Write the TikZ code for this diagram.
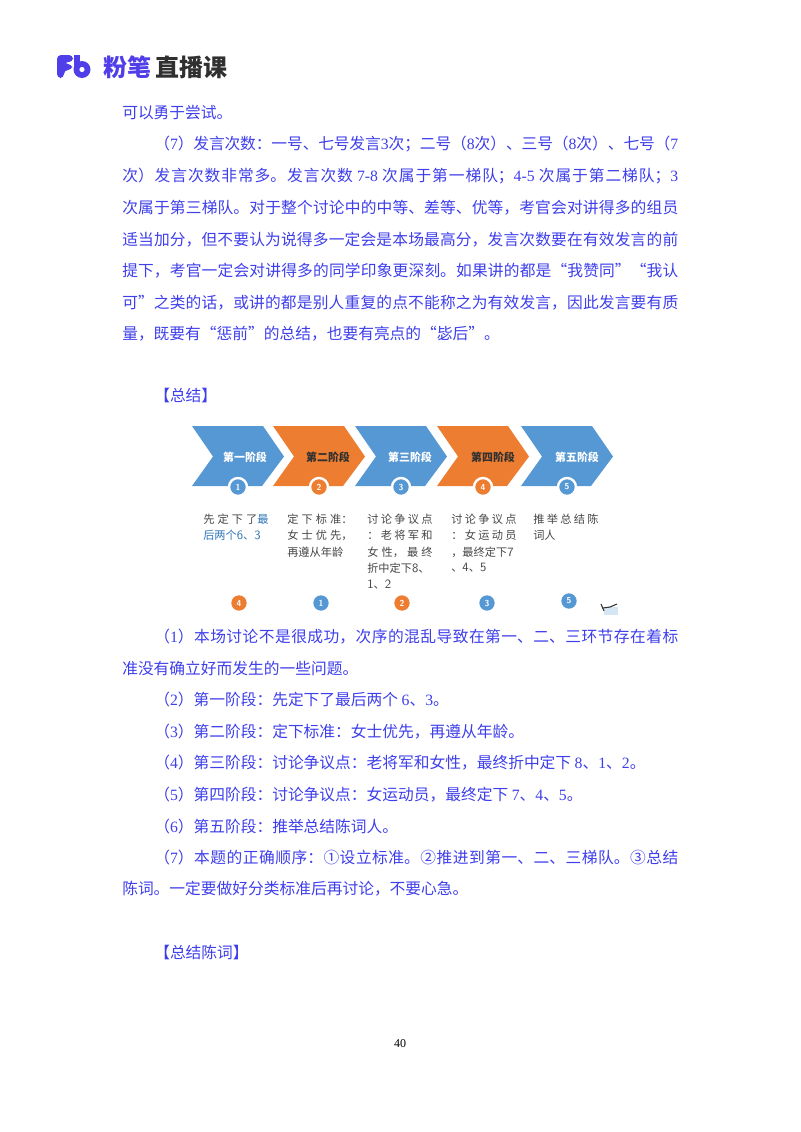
\documentclass[tikz,border=0pt]{standalone}
\usepackage{fontspec}
\setmainfont{Liberation Serif}
\newfontfamily\cjk{Noto Sans CJK SC}
\XeTeXlinebreaklocale "zh"
\XeTeXlinebreakskip=0pt plus 2pt minus 0.4pt
\definecolor{bodyblue}{RGB}{62,62,235}
\definecolor{logopurple}{RGB}{80,62,232}
\definecolor{logodark}{RGB}{48,48,48}
\definecolor{stageblue}{RGB}{86,152,212}
\definecolor{stageorange}{RGB}{237,125,49}
\definecolor{labelgrey}{RGB}{70,70,70}
\definecolor{labelblue}{RGB}{46,117,182}
\def\dg#1{{\rmfamily #1}}
\def\dn#1{{\sffamily\fontsize{9.5}{10}\selectfont #1}}
\def\stagearrow[#1](#2){\fill[#1, shift={(#2,0)}] (0,426) -- (71,426) -- (92,456.5) -- (70,486) -- (0,486) -- (21,456.5) -- cycle;}
\tikzset{
	bodyline/.style={anchor=west, inner sep=0pt, text=bodyblue, font=\cjk\fontsize{11.8}{14}\selectfont},
	fullline/.style={bodyline, text width=417pt, align=justify, execute at begin node={\parfillskip=0pt}},
	indentline/.style={fullline, text width=393pt},
	logotext/.style={anchor=west, inner sep=0pt, font=\cjk\bfseries\fontsize{18}{20}\selectfont},
	stagetext/.style={inner sep=0pt, font=\cjk\bfseries\fontsize{8.2}{10}\selectfont},
	stagedot/.style={circle, fill=#1, draw=white, line width=1.8pt, inner sep=0pt, minimum size=13.5pt, text=white, font=\sffamily\bfseries\fontsize{6.5}{7}\selectfont},
	rankdot/.style={circle, fill=#1, inner sep=0pt, minimum size=11.5pt, text=white, font=\sffamily\bfseries\fontsize{6.5}{7}\selectfont},
	noteline/.style={anchor=west, inner sep=0pt, text=labelgrey, font=\cjk\fontsize{8.4}{10}\selectfont},
	notefull/.style={noteline, text width=49pt, align=justify, execute at begin node={\parfillskip=0pt}}
}
\begin{document}
\begin{tikzpicture}[x=0.75pt, y=-0.75pt]
		\useasboundingbox (0,0) rectangle (800,1132);
		
		%%%%% LOGO %%%%%
		\fill[logopurple, rounded corners=3pt] (57,78) -- (57,55) -- (73,55) -- (73,62) -- (64,62) -- (64,64) -- (72,64) -- (72,70) -- (64,70) -- (64,78) -- cycle;
		\fill[logopurple] (74,55) rectangle (80,70);
		\fill[logopurple] (82,69.5) circle (8.5);
		\fill[white] (82,69.5) circle (2.6);
		\node[logotext, text=logopurple] (logoa) at (103,67) {粉笔};
		\node[logotext, text=logodark] (logob) at (155,67) {直播课};
		
		%%%%% TOP TEXT %%%%%
		\node[bodyline] (ta) at (122,113) {可以勇于尝试。};
		\node[indentline] (tb) at (154,144) {（\dg{7}）发言次数：一号、七号发言\dg{3}次；二号（\dg{8}次）、三号（\dg{8}次）、七号（\dg{7}};
		\node[fullline] (tc) at (122,176) {次）发言次数非常多。发言次数 \dg{7-8} 次属于第一梯队；\dg{4-5} 次属于第二梯队；\dg{3}};
		\node[fullline] (td) at (122,208) {次属于第三梯队。对于整个讨论中的中等、差等、优等，考官会对讲得多的组员};
		\node[fullline] (te) at (122,240) {适当加分，但不要认为说得多一定会是本场最高分，发言次数要在有效发言的前};
		\node[fullline] (tf) at (122,271) {提下，考官一定会对讲得多的同学印象更深刻。如果讲的都是“我赞同”“我认};
		\node[fullline] (tg) at (122,303) {可”之类的话，或讲的都是别人重复的点不能称之为有效发言，因此发言要有质};
		\node[bodyline] (th) at (122,334) {量，既要有“惩前”的总结，也要有亮点的“毖后”。};
		\node[bodyline] (ti) at (154,396) {【总结】};
		
		%%%%% STAGES %%%%%
		\stagearrow[stageblue](192)
		\stagearrow[stageorange](273)
		\stagearrow[stageblue](355)
		\stagearrow[stageorange](437)
		\stagearrow[stageblue](521)
		
		\node[stagetext, text=white] (sa) at (245,457) {第一阶段};
		\node[stagetext, text=logodark] (sb) at (328,457) {第二阶段};
		\node[stagetext, text=white] (sc) at (410,457) {第三阶段};
		\node[stagetext, text=logodark] (sd) at (493,457) {第四阶段};
		\node[stagetext, text=white] (se) at (577,457) {第五阶段};
		
		\node[stagedot=stageblue] (da) at (238,487) {1};
		\node[stagedot=stageorange] (db) at (319,487) {2};
		\node[stagedot=stageblue] (dc) at (401,487) {3};
		\node[stagedot=stageorange] (dd) at (483,487) {4};
		\node[stagedot=stageblue] (de) at (567,487) {5};
		
		\node[notefull] (na) at (203,519) {先定下了\textcolor{labelblue}{最}};
		\node[noteline, text=labelblue] (nb) at (203,535) {后两个\dn{6}、\dn{3}};
		
		\node[notefull] (nc) at (287,519) {定下标准：};
		\node[notefull] (nd) at (287,535) {女士优先，};
		\node[noteline] (ne) at (287,552) {再遵从年龄};
		
		\node[notefull] (nf) at (367,519) {讨论争议点};
		\node[notefull] (ng) at (367,535) {：老将军和};
		\node[notefull] (nh) at (367,552) {女性，最终};
		\node[noteline] (ni) at (367,568) {折中定下\dn{8}、};
		\node[noteline] (nj) at (367,585) {\dn{1}、\dn{2}};
		
		\node[notefull] (nk) at (451,519) {讨论争议点};
		\node[notefull] (nl) at (451,535) {：女运动员};
		\node[noteline] (nm) at (451,552) {，最终定下\dn{7}};
		\node[noteline] (nn) at (451,568) {、\dn{4}、\dn{5}};
		
		\node[notefull] (no) at (533,519) {推举总结陈};
		\node[noteline] (np) at (533,535) {词人};
		
		\node[rankdot=stageorange] (ra) at (239,603) {4};
		\node[rankdot=stageblue] (rb) at (321,603) {1};
		\node[rankdot=stageorange] (rc) at (402,603) {2};
		\node[rankdot=stageblue] (rd) at (487,603) {3};
		\node[rankdot=stageblue] (re) at (569,601) {5};
		
		\fill[stageblue!25] (604,607) rectangle (618,615);
		\draw[logodark, line width=0.8pt] (601,604) -- (604,611);
		\draw[logodark, line width=0.8pt] (603,608) -- (610,607) -- (617,604);
		
		%%%%% BOTTOM TEXT %%%%%
		\node[indentline] (ua) at (154,637) {（\dg{1}）本场讨论不是很成功，次序的混乱导致在第一、二、三环节存在着标};
		\node[bodyline] (ub) at (122,668) {准没有确立好而发生的一些问题。};
		\node[bodyline] (uc) at (154,700) {（\dg{2}）第一阶段：先定下了最后两个 \dg{6}、\dg{3}。};
		\node[bodyline] (ud) at (154,732) {（\dg{3}）第二阶段：定下标准：女士优先，再遵从年龄。};
		\node[bodyline] (ue) at (154,763) {（\dg{4}）第三阶段：讨论争议点：老将军和女性，最终折中定下 \dg{8}、\dg{1}、\dg{2}。};
		\node[bodyline] (uf) at (154,795) {（\dg{5}）第四阶段：讨论争议点：女运动员，最终定下 \dg{7}、\dg{4}、\dg{5}。};
		\node[bodyline] (ug) at (154,827) {（\dg{6}）第五阶段：推举总结陈词人。};
		\node[indentline] (uh) at (154,858) {（\dg{7}）本题的正确顺序：①设立标准。②推进到第一、二、三梯队。③总结};
		\node[bodyline] (ui) at (122,889) {陈词。一定要做好分类标准后再讨论，不要心急。};
		\node[bodyline] (uj) at (154,952) {【总结陈词】};
		
		\node[inner sep=0pt, font=\fontsize{9}{11}\selectfont] (pg) at (400,1044) {40};
\end{tikzpicture}
\end{document}
